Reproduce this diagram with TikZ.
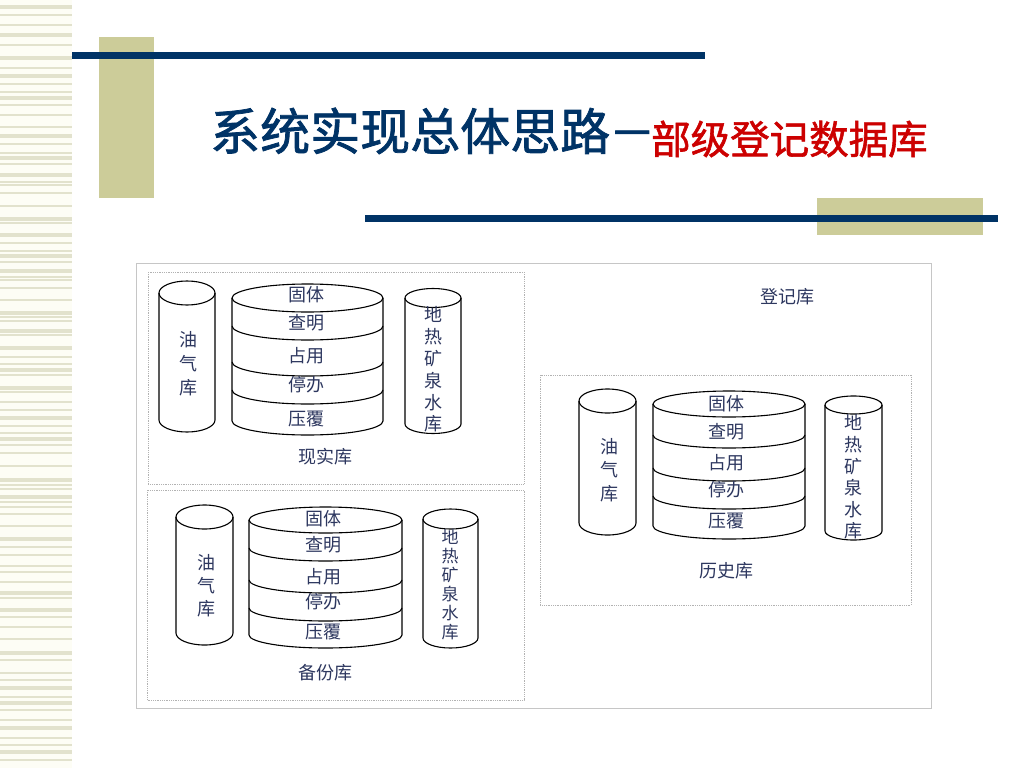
\documentclass[tikz,border=0pt]{standalone}
\usepackage{fontspec}
\setmainfont{Noto Sans CJK SC}
\newfontfamily\titlefont[FakeBold=1.5]{Noto Sans CJK SC}
\definecolor{navy}{RGB}{0,51,102}
\definecolor{khaki}{RGB}{204,204,153}
\definecolor{titlered}{RGB}{204,0,0}
\definecolor{lbl}{RGB}{45,55,95}
\definecolor{stripe}{RGB}{226,226,205}
\definecolor{cream}{RGB}{253,253,245}
\tikzset{
  cylline/.style={draw=black, line width=1.1pt},
  lbltext/.style={text=lbl, font=\fontsize{18}{24}\selectfont, inner sep=0pt},
  boxdot/.style={draw=gray!60, densely dotted, line width=0.8pt},
  outerbox/.style={draw=gray!45, line width=0.9pt},
  titletext/.style={anchor=base west, inner sep=0pt},
}
% cylinder: cx, ytop, ybot, rx, ry (pixel units, y downwards)
\newcommand\dbcyl[5]{%
  \draw[cylline] ({#1-#4},{-#2}) -- ({#1-#4},{-#3}) arc[start angle=180,end angle=360,x radius=#4,y radius=#5] -- ({#1+#4},{-#2});
  \draw[cylline] (#1,{-#2}) ellipse[x radius=#4,y radius=#5];}
% stack: cx, ytop, y2, y3, y4, ybot, rx, ry
\newcommand\dbstack[8]{%
  \dbcyl{#1}{#2}{#6}{#7}{#8}%
  \foreach \yy in {#3,#4,#5}{\draw[cylline] ({#1-#7},{-\yy}) arc[start angle=180,end angle=360,x radius=#7,y radius=#8];}}
\begin{document}
\begin{tikzpicture}[x=1pt,y=1pt]
\useasboundingbox (0,0) rectangle (1024,-768);
\fill[white] (0,0) rectangle (1024,-768);
% left stripe band
\fill[cream] (0,0) rectangle (72,-768);
\foreach \yy/\tt in {7.5/4,15/2,25/1.5,35/3.5,45/1.5,58/4,68/1.5,76/3.5,84/2,92/1.5,98/3.5,105/2,115/1.5,127/1.5,136/3.5,144/2,153/1.5,158/3.5,164/2,175/3.5,182/1.5,185/1.5,193/1.5,206/1.5,219/3.5,223/1.5,235/3.5,243/1.5,251/1.5,256/3.5,262/1.5,271/3.5,277/1.5,280/1.5,288/1.5,300/1.5,313/3.5,317/1.5,321/1.5,331/3.5,335/1.5,348/3.5,357/1.5,364/1.5,370/3.5,375/1.5,388/3.5,392/1.5,402/1.5,410/1.5,418/3.5,426/1.5,433/1.5,439/3.5,445/1.5,453/1.5,466/1.5,480/3.5,485/1.5,489/1.5,497/3.5,502/1.5,507/1.5,514/1.5,526/1.5,539/3.5,547/1.5,555/1.5,566/1.5,572/1.5,582/1.5,593/3.5,598/1.5,610/3.5,617/1.5,627/1.5,639/1.5,653/3.5,660/1.5,673/1.5,680/1.5,688/3.5,697/1.5,703/3.5,710/1.5,720/1.5,728/3.5,738/1.5,745/1.5,752/3.5,760/1.5}
  {\fill[stripe] (0,{-\yy+\tt/2}) rectangle (72,{-\yy-\tt/2});}
% header decoration
\fill[khaki] (99,-37) rectangle (154,-198);
\fill[navy] (72,-52) rectangle (705,-59);
\fill[khaki] (817,-198) rectangle (983,-235);
\fill[navy] (365,-215) rectangle (998,-222);
% title
\node[titletext, text=navy, font=\titlefont\fontsize{50}{60}\selectfont] (t1) at (210,-150) {系统实现总体思路};
\node[titletext, text=navy, font=\titlefont\fontsize{46}{54}\selectfont] (t0) at (609,-149.5) {－};
\node[titletext, text=titlered, font=\titlefont\fontsize{39.5}{46}\selectfont] (t2) at (651,-154) {部级登记数据库};
% frames
\draw[outerbox] (136,-263) rectangle (931,-708);
\draw[boxdot] (148,-272) rectangle (524,-484);
\draw[boxdot] (147,-490) rectangle (524,-700);
\draw[boxdot] (540,-375) rectangle (911,-605);
\node[lbltext] (djk) at (787,-297) {登记库};
% group 1: 现实库
\dbcyl{187}{293}{420}{28}{12}
\dbstack{307.5}{298}{326}{362}{390}{421}{75.5}{14}
\dbcyl{433}{298}{424}{28}{9.5}
\node[lbltext, align=center] (a1) at (188,-364) {油\\气\\库};
\node[lbltext] (a2) at (306,-295) {固体};
\node[lbltext] (a3) at (306,-323) {查明};
\node[lbltext] (a4) at (306,-356) {占用};
\node[lbltext] (a5) at (306,-385) {停办};
\node[lbltext] (a6) at (306,-419) {压覆};
\node[lbltext, align=center, font=\fontsize{18}{21.8}\selectfont] (a7) at (433,-369.5) {地\\热\\矿\\泉\\水\\库};
\node[lbltext] (a8) at (325,-457) {现实库};
% group 2: 备份库
\dbcyl{204.5}{517}{633}{28.5}{12}
\dbstack{325.5}{520}{548}{580}{608}{635}{76.5}{13}
\dbcyl{450.5}{519}{638}{27.5}{10}
\node[lbltext, align=center, font=\fontsize{18}{23}\selectfont] (b1) at (206,-586) {油\\气\\库};
\node[lbltext] (b2) at (323,-519) {固体};
\node[lbltext] (b3) at (323,-545) {查明};
\node[lbltext] (b4) at (323,-577) {占用};
\node[lbltext] (b5) at (323,-602) {停办};
\node[lbltext] (b6) at (323,-632) {压覆};
\node[lbltext, align=center, font=\fontsize{17}{19}\selectfont] (b7) at (450,-584.5) {地\\热\\矿\\泉\\水\\库};
\node[lbltext] (b8) at (325,-673) {备份库};
% group 3: 历史库
\dbcyl{607.5}{401}{523}{28.5}{12}
\dbstack{729}{404}{435}{468}{496}{526}{76}{13}
\dbcyl{853.5}{405}{531}{28.5}{9}
\node[lbltext, align=center, font=\fontsize{18}{23.5}\selectfont] (c1) at (609,-470) {油\\气\\库};
\node[lbltext] (c2) at (726,-404) {固体};
\node[lbltext] (c3) at (726,-432) {查明};
\node[lbltext] (c4) at (726,-463) {占用};
\node[lbltext] (c5) at (726,-490) {停办};
\node[lbltext] (c6) at (726,-521) {压覆};
\node[lbltext, align=center, font=\fontsize{18}{21.6}\selectfont] (c7) at (853,-477) {地\\热\\矿\\泉\\水\\库};
\node[lbltext] (c8) at (726,-571) {历史库};
\end{tikzpicture}
\end{document}
